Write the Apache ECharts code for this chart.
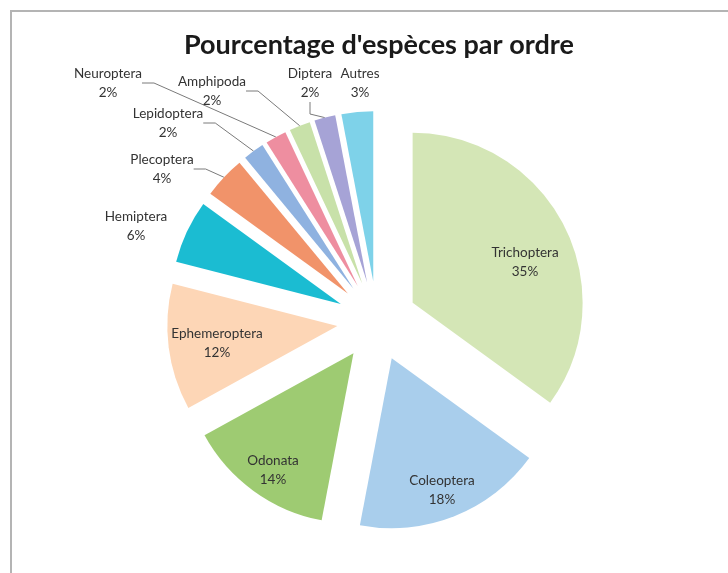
<!DOCTYPE html>
<html>
<head>
<meta charset="utf-8">
<script src="https://cdn.jsdelivr.net/npm/echarts@6/dist/echarts.min.js"></script>
<style>
  html, body { margin: 0; padding: 0; background: #fff; }
  #chart { width: 728px; height: 573px; }
</style>
</head>
<body>
<div id="chart"></div>
<script>
  var title = "Pourcentage d'espèces par ordre";
  var orders = ['Trichoptera', 'Coleoptera', 'Odonata', 'Ephemeroptera', 'Hemiptera', 'Plecoptera',
                'Lepidoptera', 'Neuroptera', 'Amphipoda', 'Diptera', 'Autres'];
  var percents = [35, 18, 14, 12, 6, 4, 2, 2, 2, 2, 3];
  var colors = ['#d4e6b6', '#a9ceec', '#9ecb72', '#fdd6b6', '#1bbcd2', '#f1936a',
                '#8fb2e0', '#ee8ea0', '#c8e1a9', '#a6a3d6', '#7ed2e9'];
  var insideLabels = ['Trichoptera', 'Coleoptera', 'Odonata', 'Ephemeroptera'];
  var noLine = ['Hemiptera', 'Autres'];

  // where Excel put each data label (centre of the two-line block)
  var labelSpots = {
    Trichoptera: [525, 262],
    Coleoptera: [442, 490],
    Odonata: [273, 470],
    Ephemeroptera: [217, 343],
    Hemiptera: [136, 226],
    Plecoptera: [162, 169],
    Lepidoptera: [168, 123],
    Neuroptera: [108, 83],
    Amphipoda: [212, 91],
    Diptera: [310, 83],
    Autres: [360, 83]
  };

  var center = [377, 321];
  var radius = 170;
  var explode = 40;

  var chart = echarts.init(document.getElementById('chart'));

  // exploded slices, no labels
  var sliceData = orders.map(function(name, i){
    return {
      name: name,
      value: percents[i],
      selected: true,
      itemStyle: { color: colors[i] }
    };
  });

  // invisible pie that carries the data labels
  var labelData = orders.map(function(name, i){
    var inside = insideLabels.indexOf(name) >= 0;
    return {
      name: name,
      value: percents[i],
      label: { position: inside ? 'inside' : 'outside' },
      labelLine: { show: !inside && noLine.indexOf(name) < 0 }
    };
  });

  chart.setOption({
    animation: false,
    title: {
      text: title,
      left: 179,
      top: 27,
      textStyle: { fontFamily: 'Lato', fontSize: 27, fontWeight: 'bold', color: '#1a1a1a' }
    },
    graphic: [{
      type: 'rect',
      shape: { x: 11, y: 11, width: 740, height: 600 },
      style: { fill: 'none', stroke: '#b4b4b4', lineWidth: 2 },
      silent: true
    }],
    series: [{
      type: 'pie',
      center: center,
      radius: [0, radius],
      startAngle: 90,
      clockwise: true,
      selectedMode: 'multiple',
      selectedOffset: explode,
      emphasis: { disabled: true },
      label: { show: false },
      labelLine: { show: false },
      data: sliceData
    }, {
      type: 'pie',
      center: center,
      radius: [0, radius + explode],
      startAngle: 90,
      clockwise: true,
      silent: true,
      selectedMode: false,
      avoidLabelOverlap: false,
      emphasis: { disabled: true },
      itemStyle: { color: 'rgba(0,0,0,0)' },
      label: {
        formatter: '{b}\n{c}%',
        fontFamily: 'Lato',
        fontSize: 13.5,
        lineHeight: 19,
        color: '#333333',
        align: 'center'
      },
      labelLine: {
        length: 12,
        length2: 12,
        lineStyle: { color: '#7a7a7a', width: 1 }
      },
      labelLayout: function(params){
        var spot = labelSpots[orders[params.dataIndex]];
        return {
          x: spot[0],
          y: spot[1],
          align: 'center',
          verticalAlign: 'middle'
        };
      },
      data: labelData
    }]
  });
</script>
</body>
</html>
